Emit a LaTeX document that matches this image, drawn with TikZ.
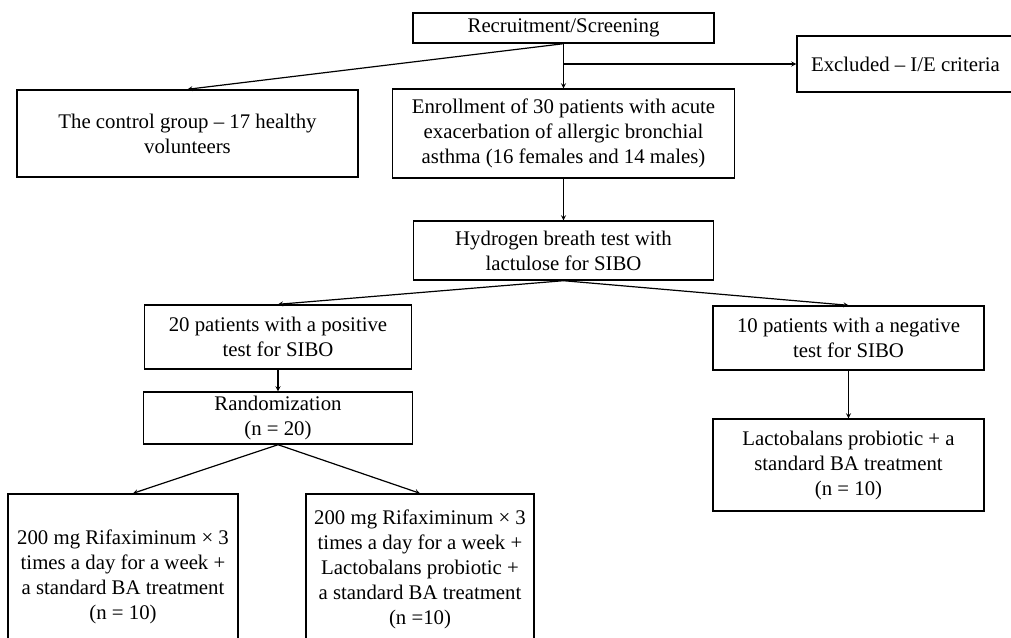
\documentclass[tikz,border=0pt]{standalone}
\usepackage{fontspec}
\setmainfont{Liberation Serif}
\usetikzlibrary{arrows}

\begin{document}
\begin{tikzpicture}
  [x=1pt,y=-1pt,line width=1.2pt,>=stealth,
   every node/.style={draw,rectangle,align=center,inner sep=0pt,line width=1.4pt,
     font=\fontsize{20.8}{25}\selectfont}]
  \useasboundingbox (0,0) rectangle (1011,637);
  \clip (0,0) rectangle (1011,637);
  \node[minimum width=301pt,minimum height=30pt] (rec) at (563.5,28) {Recruitment/Screening};
  \node[minimum width=217pt,minimum height=56pt] (exc) at (905.5,64) {Excluded – I/E criteria};
  \node[minimum width=341pt,minimum height=87pt] (ctrl) at (187.5,133.5) {The control group – 17 healthy\\volunteers};
  \node[minimum width=342pt,minimum height=89pt] (enroll) at (563.5,133.5) {Enrollment of 30 patients with acute\\exacerbation of allergic bronchial\\asthma (16 females and 14 males)};
  \node[minimum width=300pt,minimum height=59pt] (hydro) at (563.5,250.5) {Hydrogen breath test with\\lactulose for SIBO};
  \node[minimum width=267pt,minimum height=64pt] (pos) at (278,337) {20 patients with a positive\\test for SIBO};
  \node[minimum width=271pt,minimum height=64pt] (neg) at (848.5,338) {10 patients with a negative\\test for SIBO};
  \node[minimum width=269pt,minimum height=52pt] (rand) at (278,418) {Randomization\\(n = 20)};
  \node[minimum width=271pt,minimum height=92pt] (lacto) at (848.5,465) {Lactobalans probiotic + a\\standard BA treatment\\(n = 10)};
  \node[minimum width=230pt,minimum height=166pt] (rifax) at (123,577) {200 mg Rifaximinum × 3\\times a day for a week +\\a standard BA treatment\\(n = 10)};
  \node[minimum width=228pt,minimum height=150pt] (rifaxlac) at (420,569) {200 mg Rifaximinum × 3\\times a day for a week +\\Lactobalans probiotic +\\a standard BA treatment\\(n =10)};

\foreach \from/\to in
{rec.south/enroll.north, rec.south/ctrl.north, enroll.south/hydro.north, hydro.south/pos.north,
 hydro.south/neg.north, pos.south/rand.north, neg.south/lacto.north, rand.south/rifaxlac.north}
    \draw[->] (\from) -- (\to);
    \draw[->] (rand.south) -- ([xshift=10pt]rifax.north);
    \draw[->] (rec.south |- exc.west) -- (exc.west);
\end{tikzpicture}
\end{document}
